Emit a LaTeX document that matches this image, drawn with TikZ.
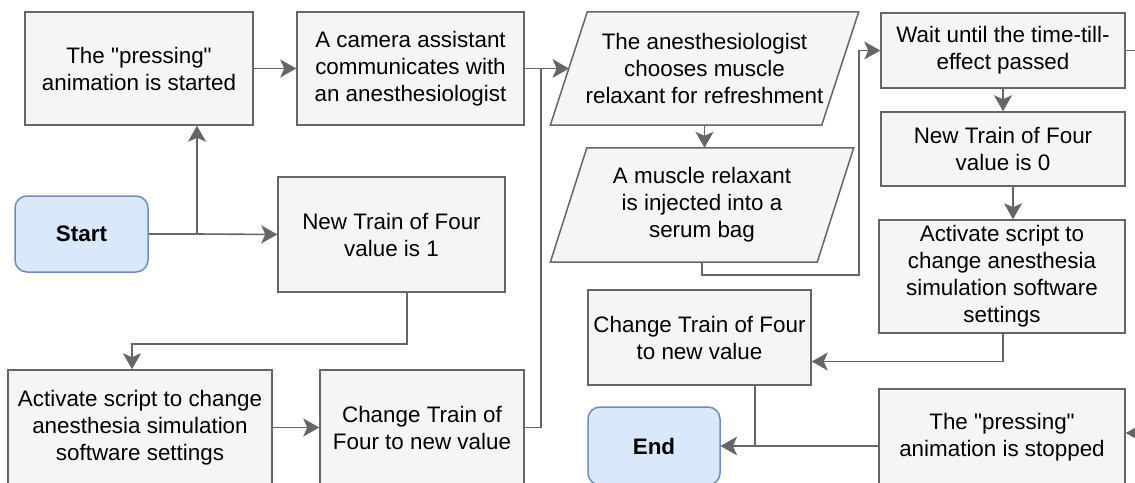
\documentclass[tikz,border=0pt]{standalone}
\usepackage{fontspec}
\setmainfont{Liberation Sans}[Ligatures=TeXOff]
\usetikzlibrary{arrows.meta,backgrounds}
\definecolor{boxfill}{HTML}{F5F5F5}
\definecolor{boxline}{HTML}{666666}
\definecolor{termfill}{HTML}{DAE8FC}
\definecolor{termline}{HTML}{6C8EBF}
\tikzset{
  stepbox/.style={draw=boxline,fill=boxfill,line width=1.5pt,inner sep=0pt,align=center,font=\fontsize{22.4}{27}\selectfont},
  termbox/.style={draw=termline,fill=termfill,line width=1.5pt,rounded corners=12pt,inner sep=0pt,font=\fontsize{22.4}{27}\selectfont\bfseries},
  slantbox/.style={inner sep=0pt,align=center,font=\fontsize{22.4}{27}\selectfont},
  flow/.style={draw=boxline,line width=1.6pt,-{Stealth[length=16pt,width=18pt,inset=4pt]}},
  wire/.style={draw=boxline,line width=1.6pt}
}
\begin{document}
\begin{tikzpicture}[x=1pt,y=-1pt]
    \useasboundingbox (0,0) rectangle (1135,482);
    \node[termbox,minimum width=133pt,minimum height=76pt] (start) at (81.5,234) {Start};
    \node[stepbox,minimum width=228pt,minimum height=113pt] (pressOn) at (139,68.5) {The "pressing"\\animation is started};
    \node[stepbox,minimum width=227pt,minimum height=113pt] (camera) at (410.5,68.5) {A camera assistant\\communicates with\\an anesthesiologist};
    \node[stepbox,minimum width=227pt,minimum height=115pt] (tof1) at (391.5,234.5) {New Train of Four\\value is 1};
    \node[stepbox,minimum width=264pt,minimum height=115pt] (actL) at (140,427.5) {Activate script to change\\anesthesia simulation\\software settings};
    \node[stepbox,minimum width=204pt,minimum height=115pt] (changeL) at (422,427.5) {Change Train of\\Four to new value};
    \node[slantbox,minimum width=271pt,minimum height=113pt] (choose) at (704.5,68.5) {The anesthesiologist\\chooses muscle\\relaxant for refreshment};
    \node[slantbox,minimum width=266.5pt,minimum height=114pt] (inject) at (702,205) {A muscle relaxant\\is injected into a\\serum bag};
    \node[stepbox,minimum width=244pt,minimum height=75pt] (wait) at (1003,50.5) {Wait until the time-till-\\effect passed};
    \node[stepbox,minimum width=244pt,minimum height=74pt] (tof0) at (1003,149) {New Train of Four\\value is 0};
    \node[stepbox,minimum width=246pt,minimum height=113pt] (actR) at (1002,276.5) {Activate script to\\change anesthesia\\simulation software\\settings};
    \node[stepbox,minimum width=223pt,minimum height=95pt] (changeR) at (699.5,337.5) {Change Train of Four\\to new value};
    \node[termbox,minimum width=132pt,minimum height=78pt] (endn) at (654,446) {End};
    \node[stepbox,minimum width=246pt,minimum height=96pt] (stopR) at (1002,437) {The "pressing"\\animation is stopped};
    \begin{scope}[on background layer]
    \foreach \n/\s in {choose/18.5,inject/18.25}
        \filldraw[draw=boxline,fill=boxfill,line width=1.5pt] ([xshift=\s pt]\n.north west) -- ([xshift=\s pt]\n.north east) -- ([xshift=-\s pt]\n.south east) -- ([xshift=-\s pt]\n.south west) -- cycle;
    \end{scope}
    \coordinate (split) at (197,234);
    \coordinate (offA) at (1140,50.5);
    \coordinate (offB) at (1140,433);
    \draw[wire] (start.east) -- (split);
    \draw[flow] (split) -- (tof1.west);
    \draw[flow] (split) -- (split |- pressOn.south);
    \draw[flow] (pressOn) -- (camera);
    \draw[flow] (camera.east) -- (choose.west);
    \draw[flow] ([xshift=15.5pt]tof1.south) -- ++(0,51) -| ([xshift=-8pt]actL.north);
    \draw[flow] (actL) -- (changeL);
    \draw[flow] (changeL.east) -- ++(16,0) |- (choose.west);
    \draw[flow] (choose.south) -- (choose.south |- inject.north);
    \draw[flow] (inject.south) -- ++(0,13) -| ([xshift=-21pt]wait.west) -- (wait.west);
    \draw[wire] (wait.east) -- (offA);
    \draw[flow] (wait) -- (tof0);
    \draw[flow] ([xshift=10pt]tof0.south) -- ([xshift=10pt]tof0.south |- actR.north);
    \draw[flow] ([xshift=1pt]actR.south) |- ([yshift=-24pt]changeR.east);
    \draw[flow] ([xshift=55.5pt]changeR.south) |- (endn.east);
    \draw[flow] ([yshift=-9pt]stopR.west) -- (endn.east);
    \draw[flow] (offB) -- (offB -| stopR.east);
\end{tikzpicture}
\end{document}
